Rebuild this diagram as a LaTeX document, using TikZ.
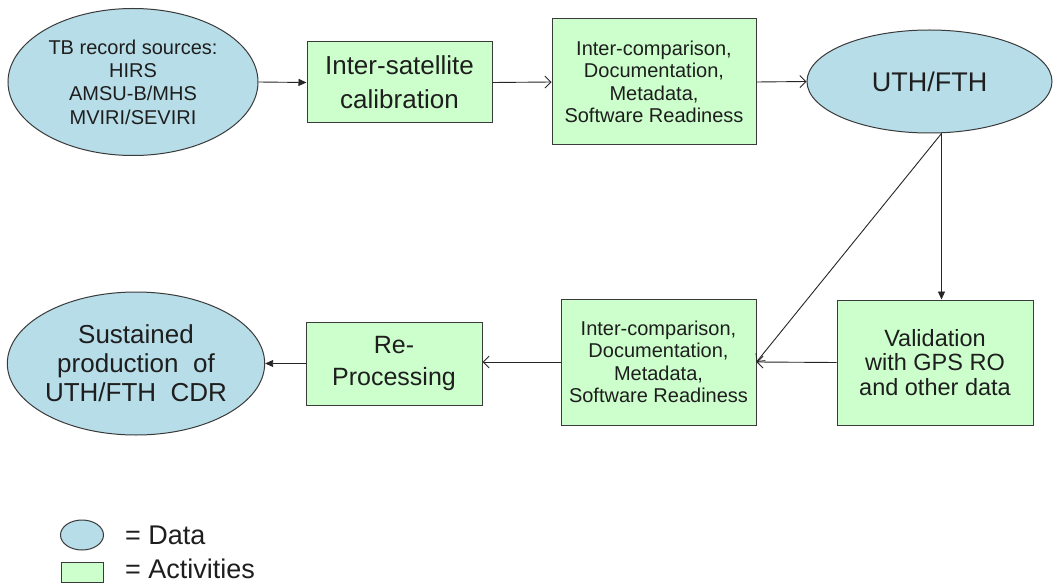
\documentclass[tikz,border=0pt]{standalone}
\usepackage{fontspec}
\setmainfont{Liberation Sans}
\usetikzlibrary{shapes.geometric,arrows.meta}
\definecolor{datafill}{HTML}{B7DDE8}
\definecolor{actfill}{HTML}{CCFFCC}
\definecolor{edgecol}{HTML}{3A3A3A}
\definecolor{txt}{HTML}{1E1E1E}
\begin{document}
\begin{tikzpicture}[x=1pt,y=-1pt,
 data/.style={ellipse, draw=edgecol, line width=1pt, fill=datafill, inner sep=0pt, text=txt, align=center},
 act/.style={rectangle, draw=edgecol, line width=1pt, fill=actfill, inner sep=0pt, text=txt, align=center},
 flow/.style={draw=black!85, line width=0.9pt},
 filledhead/.style={-{Triangle[length=8pt,width=7pt]}},
 openhead/.style={-{Straight Barb[length=6pt,width=12pt]}},
]
\useasboundingbox (0,0) rectangle (1061,583);
\fill[white] (0,0) rectangle (1061,583);

\node[data, minimum width=250pt, minimum height=147pt, font=\fontsize{20}{23.3}\selectfont] (src) at (133,82)
  {TB record sources:\\HIRS\\AMSU-B/MHS\\MVIRI/SEVIRI};
\node[act, minimum width=185pt, minimum height=81pt, font=\fontsize{26}{34}\selectfont] (cal) at (399.5,82.5)
  {Inter-satellite\\calibration};
\node[act, minimum width=204pt, minimum height=126pt, font=\fontsize{20}{22.5}\selectfont] (ic1) at (654,82)
  {Inter-comparison,\\Documentation,\\Metadata,\\Software Readiness};
\node[data, minimum width=245pt, minimum height=103pt, font=\fontsize{27}{32}\selectfont] (uth) at (929.5,81.5)
  {UTH/FTH};
\node[act, minimum width=196pt, minimum height=125pt, font=\fontsize{23.5}{24.5}\selectfont] (val) at (935,362.5)
  {Validation\\with GPS RO\\and other data};
\node[act, minimum width=195pt, minimum height=126pt, font=\fontsize{20}{22.5}\selectfont] (ic2) at (658.5,362)
  {Inter-comparison,\\Documentation,\\Metadata,\\Software Readiness};
\node[act, minimum width=176pt, minimum height=83pt, font=\fontsize{25}{32}\selectfont] (rep) at (394,363.5)
  {Re-\\Processing};
\node[data, minimum width=242pt, minimum height=143pt, font=\fontsize{26}{29}\selectfont] (sus) at (136,363.5)
  {Sustained\\production\ \ of\\UTH/FTH\ \ CDR};

% legend
\node[data, minimum width=43pt, minimum height=30pt] (legd) at (82,535) {};
\node[act, minimum width=42pt, minimum height=20pt] (lega) at (82,572) {};
\node[anchor=west, text=txt, font=\fontsize{27}{30}\selectfont, inner sep=0pt] (legdt) at (125,535) {= Data};
\node[anchor=west, text=txt, font=\fontsize{27}{30}\selectfont, inner sep=0pt] (legat) at (125,569) {= Activities};

% connectors
\coordinate (uthb) at ([xshift=12pt]uth.south);
\draw[flow, filledhead] (src.east) -- (cal.west);
\draw[flow, openhead] (cal.east) -- (ic1.west);
\draw[flow, openhead] (ic1.east) -- (uth.west);
\draw[flow, filledhead] (uthb) -- (uthb |- val.north);
\draw[flow, openhead] (uthb) -- (ic2.east);
\draw[flow, openhead] (val.west) -- (ic2.east);
\draw[flow, openhead] (ic2.west) -- (ic2.west -| rep.east);
\draw[flow, filledhead] (rep.west) -- (sus.east);
\end{tikzpicture}
\end{document}
